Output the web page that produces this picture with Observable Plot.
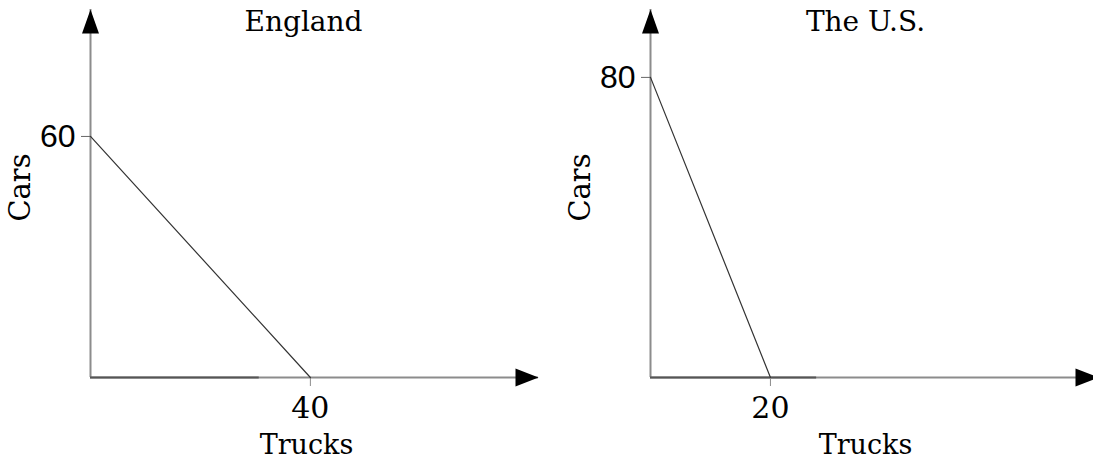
<!DOCTYPE html>
<html><head><meta charset="utf-8">
<script src="https://cdn.jsdelivr.net/npm/d3@7"></script>
<script src="https://cdn.jsdelivr.net/npm/@observablehq/plot@0.6"></script>
<style>
html,body{margin:0;padding:0;background:#fff;}
#wrap{display:flex;width:1093px;height:464px;overflow:hidden;}
#wrap svg{flex:none;}
</style></head><body><div id="wrap"></div>
<script>
// Data
const countries = ["England", "The U.S."];
const maxCars = [60, 80];      // y-intercepts
const maxTrucks = [40, 20];    // x-intercepts
const xTicks = [[40], [20]];
const yTicks = [[60], [80]];
const xLabel = "Trucks";
const yLabel = "Cars";
// axis extents (where the arrows end)
const xDomainMax = [81.5, 74.7];
const yDomainMax = [91.6, 98.1];
// darker stretch of the horizontal axis near the origin
const darkBaseEnd = [30.7, 27.7];

// layout
const widths = [546, 552];
const marginLefts = [90, 104];
const marginRights = [8, 0];
const titleDx = [-11, -9];
const xLabelDx = [-8, -9];

const upArrow = {draw(ctx) { ctx.moveTo(0, 0); ctx.lineTo(8.5, 24); ctx.lineTo(-8.5, 24); ctx.closePath(); }};
const rightArrow = {draw(ctx) { ctx.moveTo(0, 0); ctx.lineTo(-23, 9); ctx.lineTo(-23, -9); ctx.closePath(); }};

const wrap = document.getElementById("wrap");
countries.forEach((name, i) => {
  const frontier = [{x: 0, y: maxCars[i]}, {x: maxTrucks[i], y: 0}];
  const chart = Plot.plot({
    width: widths[i],
    height: 464,
    marginLeft: marginLefts[i],
    marginRight: marginRights[i],
    marginTop: 9,
    marginBottom: 87,
    style: {fontFamily: "DejaVu Serif", background: "white", color: "black"},
    x: {domain: [0, xDomainMax[i]], axis: null},
    y: {domain: [0, yDomainMax[i]], axis: null},
    marks: [
      Plot.ruleX([0], {stroke: "#8c8c8c", strokeWidth: 2}),
      Plot.ruleY([0], {stroke: "#8c8c8c", strokeWidth: 2}),
      Plot.ruleY([0], {x1: 0, x2: darkBaseEnd[i], stroke: "#555", strokeWidth: 2}),
      Plot.axisY({ticks: yTicks[i], tickSize: 9, tickPadding: 6, stroke: "#666", fill: "black",
        fontSize: 32, fontFamily: "Liberation Sans", label: null}),
      Plot.axisX({ticks: xTicks[i], tickSize: 9, tickPadding: 10, stroke: "#8c8c8c", fill: "black",
        fontSize: 30, fontFamily: "DejaVu Serif", label: null}),
      Plot.line(frontier, {x: "x", y: "y", stroke: "#333", strokeWidth: 1.2}),
      Plot.dot([{x: 0, y: yDomainMax[i]}], {x: "x", y: "y", symbol: upArrow, fill: "black", stroke: "none"}),
      Plot.dot([{x: xDomainMax[i], y: 0}], {x: "x", y: "y", symbol: rightArrow, fill: "black", stroke: "none"}),
      Plot.text([name], {frameAnchor: "top", text: d => d, dx: titleDx[i], dy: 2, lineAnchor: "top",
        fontSize: 28, fill: "black"}),
      Plot.text([xLabel], {frameAnchor: "bottom", text: d => d, dx: xLabelDx[i], dy: 57, lineAnchor: "top",
        fontSize: 27, fill: "black"}),
      Plot.text([yLabel], {frameAnchor: "left", text: d => d, dx: -81, dy: -6, rotate: -90, lineAnchor: "top",
        textAnchor: "middle", fontSize: 29, fill: "black"})
    ]
  });
  wrap.appendChild(chart);
});
</script>
</body></html>
